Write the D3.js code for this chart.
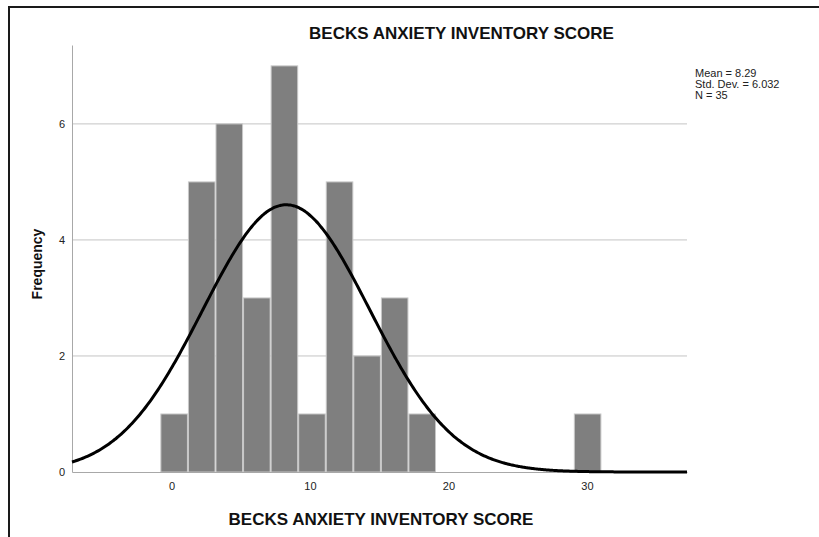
<!DOCTYPE html>
<html>
<head>
<meta charset="utf-8">
<script src="https://cdn.jsdelivr.net/npm/d3@7"></script>
<style>
  html, body { margin: 0; padding: 0; background: #fff; }
  svg { display: block; font-family: "Liberation Sans", Arial, sans-serif; }
</style>
</head>
<body>
<svg id="chart" width="819" height="537"></svg>
<script>
// Histogram of BECKS ANXIETY INVENTORY SCORE with fitted normal curve
const binStart = -0.8;      // lower edge of the first bin
const binWidth = 1.99;
const binCounts = [1, 5, 6, 3, 7, 1, 5, 2, 3, 1, 0, 0, 0, 0, 0, 1];
const xTicks = [0, 10, 20, 30];
const yTicks = [0, 2, 4, 6];
const statsMean = 8.29;
const statsSd = 6.032;
const statsN = 35;
const statsLines = ["Mean = 8.29", "Std. Dev. = 6.032", "N = 35"];
const titleText = "BECKS ANXIETY INVENTORY SCORE";
const xLabel = "BECKS ANXIETY INVENTORY SCORE";
const yLabel = "Frequency";

const svg = d3.select("#chart");

const x = d3.scaleLinear().domain([-7.18, 37.22]).range([72, 687]);
const y = d3.scaleLinear().domain([0, 7.36]).range([472, 45]);

// outer frame
svg.append("path")
  .attr("d", "M9,537 L9,7 L819,7")
  .attr("fill", "none")
  .attr("stroke", "#1a1a1a")
  .attr("stroke-width", 2);

// horizontal gridlines
svg.append("g")
  .selectAll("line")
  .data(yTicks.filter(d => d > 0))
  .join("line")
  .attr("x1", x.range()[0]).attr("x2", x.range()[1])
  .attr("y1", d => y(d)).attr("y2", d => y(d))
  .attr("stroke", "#c4c4c4")
  .attr("stroke-width", 1);

// bars
const bins = binCounts.map((c, i) => ({
  x0: binStart + i * binWidth,
  x1: binStart + (i + 1) * binWidth,
  count: c
})).filter(b => b.count > 0);

svg.append("g")
  .selectAll("rect")
  .data(bins)
  .join("rect")
  .attr("x", d => x(d.x0) + 0.5)
  .attr("width", d => x(d.x1) - x(d.x0) - 1)
  .attr("y", d => y(d.count))
  .attr("height", d => y(0) - y(d.count))
  .attr("fill", "#7f7f7f")
  .attr("stroke", "#c8c8c8")
  .attr("stroke-width", 1);

// axes (lines only, labels without tick marks)
const yAxis = d3.axisLeft(y).tickValues(yTicks).tickSize(0).tickPadding(7).tickFormat(d3.format("d"));
const gy = svg.append("g").attr("transform", `translate(${x.range()[0]},0)`).call(yAxis);
gy.select(".domain").attr("stroke", "#a8a8a8");
gy.selectAll("text").attr("font-size", 11).attr("fill", "#222").attr("dy", "0.35em")
  .attr("font-family", "'Liberation Sans', Arial, sans-serif");

const xAxis = d3.axisBottom(x).tickValues(xTicks).tickSize(0).tickPadding(10).tickFormat(d3.format("d"));
const gx = svg.append("g").attr("transform", `translate(0,${y(0)})`).call(xAxis);
gx.select(".domain").attr("stroke", "#a8a8a8");
gx.selectAll("text").attr("font-size", 11).attr("fill", "#222")
  .attr("font-family", "'Liberation Sans', Arial, sans-serif");

// fitted normal curve scaled to counts
const scaleK = statsN * binWidth / (statsSd * Math.sqrt(2 * Math.PI));
const curveXs = d3.range(x.domain()[0], x.domain()[1] + 0.001, (x.domain()[1] - x.domain()[0]) / 400);
const line = d3.line()
  .x(d => x(d))
  .y(d => y(scaleK * Math.exp(-0.5 * Math.pow((d - statsMean) / statsSd, 2))))
  .curve(d3.curveBasis);
svg.append("path")
  .datum(curveXs)
  .attr("d", line)
  .attr("fill", "none")
  .attr("stroke", "#000")
  .attr("stroke-width", 3);

// title
svg.append("text")
  .attr("x", 461.5).attr("y", 39)
  .attr("text-anchor", "middle")
  .attr("font-size", 17).attr("font-weight", "bold").attr("fill", "#111")
  .text(titleText);

// axis titles
svg.append("text")
  .attr("x", 381).attr("y", 525)
  .attr("text-anchor", "middle")
  .attr("font-size", 17).attr("font-weight", "bold").attr("fill", "#111")
  .text(xLabel);

svg.append("text")
  .attr("transform", "translate(42,264) rotate(-90)")
  .attr("text-anchor", "middle")
  .attr("font-size", 14).attr("font-weight", "bold").attr("fill", "#111")
  .text(yLabel);

// summary statistics
svg.append("g")
  .selectAll("text")
  .data(statsLines)
  .join("text")
  .attr("x", 695)
  .attr("y", (d, i) => 77 + i * 11)
  .attr("font-size", 11).attr("fill", "#222")
  .text(d => d);
</script>
</body>
</html>
